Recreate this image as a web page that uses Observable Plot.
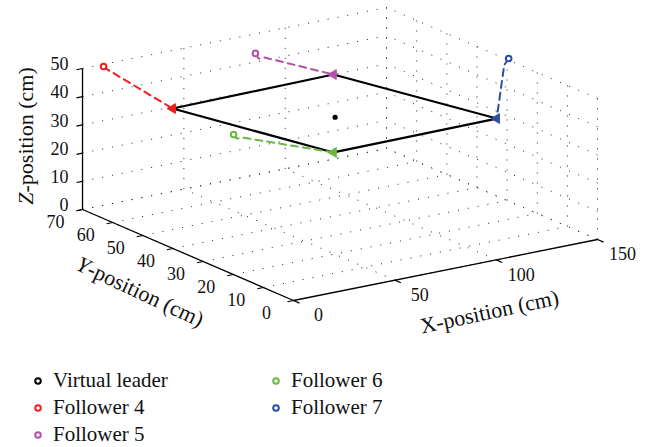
<!DOCTYPE html>
<html><head><meta charset="utf-8">
<script src="https://cdn.jsdelivr.net/npm/d3@7"></script>
<script src="https://cdn.jsdelivr.net/npm/@observablehq/plot@0.6"></script>
<style>
html,body{margin:0;padding:0;background:#fff;}
body{width:652px;height:447px;overflow:hidden;font-family:"Liberation Serif","DejaVu Serif",serif;}
#legend{display:grid;grid-template-columns:238px 238px;grid-template-rows:27px 27px 27px;grid-auto-flow:column;padding-left:32px;padding-top:12px;font-size:21px;color:#111;font-family:"Liberation Serif","DejaVu Serif",serif;}
#legend .item{display:flex;align-items:center;height:27px;}
#legend svg{margin-right:9px;}
</style></head><body>
<div id="chart"></div>
<div id="legend"></div>
<script>
// ---- data ----
const xTicks = [0, 50, 100, 150];
const yTicks = [0, 10, 20, 30, 40, 50, 60, 70];
const zTicks = [0, 10, 20, 30, 40, 50];
const seriesNames = ["Virtual leader", "Follower 4", "Follower 5", "Follower 6", "Follower 7"];
const seriesColors = ["#000000", "#f01e1e", "#b452aa", "#6cb844", "#2d4ea5"];
const leader = [80, 40, 35];
const follower4 = [[8.6, 68.8, 50], [9.8, 68.3, 49], [32.1, 61.7, 35]];
const follower5 = [[70, 59.7, 50], [68.1, 57.4, 49.5], [72.1, 58.1, 49], [112.8, 62.6, 35]];
const follower6 = [[32.3, 41.6, 35], [30.2, 39.2, 35], [33.0, 39.1, 35], [52.0, 21.7, 35]];
const follower7 = [[146.9, 27.4, 52], [143.5, 26.6, 50.5], [133.4, 22.3, 35]];
const formationOrder = ["Follower 4", "Follower 5", "Follower 7", "Follower 6", "Follower 4"];
const axisLabels = ["X-position (cm)", "Y-position (cm)", "Z-position (cm)"];

// ---- orthographic projection of the 3D box onto the page ----
const W = 652, H = 355;
const origin = [293, 300];
const ex = [2.027, -0.4067], ey = [-3.014, -1.3], ez = [0, -2.82];
const P = ([x, y, z]) => [origin[0] + ex[0]*x + ey[0]*y + ez[0]*z, origin[1] + ex[1]*x + ey[1]*y + ez[1]*z];
const pt = (p, extra = {}) => { const [px, py] = P(p); return {px, py, ...extra}; };
const seg = (a, b) => { const [x1, y1] = P(a), [x2, y2] = P(b); return {x1, y1, x2, y2}; };

const xmax = xTicks[xTicks.length-1], ymax = yTicks[yTicks.length-1], zmax = zTicks[zTicks.length-1];

const grid = [];
for (const t of xTicks) { grid.push(seg([t,0,0],[t,ymax,0])); grid.push(seg([t,ymax,0],[t,ymax,zmax])); }
for (const t of yTicks) { grid.push(seg([0,t,0],[xmax,t,0])); grid.push(seg([xmax,t,0],[xmax,t,zmax])); }
for (const t of zTicks) { grid.push(seg([xmax,0,t],[xmax,ymax,t])); grid.push(seg([0,ymax,t],[xmax,ymax,t])); }

const axes = [seg([0,ymax,0],[0,ymax,zmax]), seg([0,0,0],[0,ymax,0]), seg([0,0,0],[xmax,0,0])];
const ticks = [
  ...zTicks.map(t => seg([0,ymax,t],[-3,ymax,t])),
  ...yTicks.map(t => seg([0,t,0],[-3,t,0])),
  ...xTicks.map(t => seg([t,0,0],[t,-2,0]))
];
const zLab = zTicks.map(t => pt([0,ymax,t], {label: String(t)}));
const yLab = yTicks.map(t => pt([0,t,0], {label: String(t)}));
const xLab = xTicks.map(t => pt([t,0,0], {label: String(t)}));

const followers = [follower4, follower5, follower6, follower7];
const trajData = followers.flatMap((f, i) => f.map(p => pt(p, {s: seriesNames[i+1]})));
const startPts = followers.map((f, i) => pt(f[0], {s: seriesNames[i+1]}));
const endPts = followers.map((f, i) => pt(f[f.length-1], {s: seriesNames[i+1]}));
const endByName = Object.fromEntries(endPts.map(d => [d.s, d]));
const formation = formationOrder.map(n => endByName[n]);
const leaderPt = [pt(leader)];

const color = {domain: seriesNames, range: seriesColors};
const labelPos = [
  {...pt([xmax/2,0,0]), label: axisLabels[0], dx: 44, dy: 42, rot: -12},
  {...pt([0,ymax/2,0]), label: axisLabels[1], dx: -48, dy: 37, rot: 25},
  {...pt([0,ymax,zmax/2]), label: axisLabels[2], dx: -57, dy: -3, rot: -90}
];
const FONT = "'Liberation Serif', 'DejaVu Serif', serif";

const chart = Plot.plot({
  width: W, height: H, margin: 0,
  style: {fontFamily: FONT, background: "#fff"},
  x: {domain: [0, W], range: [0, W], axis: null},
  y: {domain: [0, H], range: [0, H], axis: null},
  color,
  marks: [
    Plot.link(grid, {x1: "x1", y1: "y1", x2: "x2", y2: "y2", stroke: "#222", strokeWidth: 1, strokeDasharray: "1,9"}),
    Plot.link(axes, {x1: "x1", y1: "y1", x2: "x2", y2: "y2", stroke: "#000", strokeWidth: 1.3}),
    Plot.link(ticks, {x1: "x1", y1: "y1", x2: "x2", y2: "y2", stroke: "#000", strokeWidth: 1.2}),
    Plot.text(zLab, {x: "px", y: "py", text: "label", textAnchor: "end", dx: -14, dy: -4, fontSize: 18, fontFamily: FONT, fill: "#111"}),
    Plot.text(yLab, {x: "px", y: "py", text: "label", dx: -27, dy: 13, fontSize: 18, fontFamily: FONT, fill: "#111"}),
    Plot.text(xLab, {x: "px", y: "py", text: "label", dx: 25, dy: 15, fontSize: 18, fontFamily: FONT, fill: "#111"}),
    ...labelPos.map(l => Plot.text([l], {x: "px", y: "py", text: "label", dx: l.dx, dy: l.dy, rotate: l.rot, fontSize: 22, fontFamily: FONT, fill: "#111"})),
    Plot.line(formation, {x: "px", y: "py", stroke: "#000", strokeWidth: 2.2}),
    Plot.line(trajData, {x: "px", y: "py", z: "s", stroke: "s", strokeWidth: 2, strokeDasharray: "7,5"}),
    Plot.dot(startPts, {x: "px", y: "py", stroke: "s", r: 2.8, strokeWidth: 2, fill: "#fff"}),
    Plot.dot(endPts, {x: "px", y: "py", stroke: "s", fill: "s", symbol: "triangle", rotate: -90, r: 3.6, strokeWidth: 1}),
    Plot.dot(leaderPt, {x: "px", y: "py", fill: "#000", r: 2.6})
  ]
});
document.getElementById("chart").appendChild(chart);

// italic axis letters for Y and Z labels
d3.select(chart).selectAll("text").each(function() {
  const t = this.textContent;
  if (t === axisLabels[1] || t === axisLabels[2]) {
    const el = d3.select(this);
    el.text(null);
    el.append("tspan").attr("font-style", "italic").text(t[0]);
    el.append("tspan").text(t.slice(1));
  }
});

// legend
const lg = d3.select("#legend");
seriesNames.forEach((n, i) => {
  const it = lg.append("div").attr("class", "item");
  const s = it.append("svg").attr("width", 12).attr("height", 12);
  s.append("circle").attr("cx", 6).attr("cy", 6).attr("r", 2.8).attr("fill", "#fff").attr("stroke", seriesColors[i]).attr("stroke-width", 2);
  it.append("span").text(n);
});
</script>
</body></html>
